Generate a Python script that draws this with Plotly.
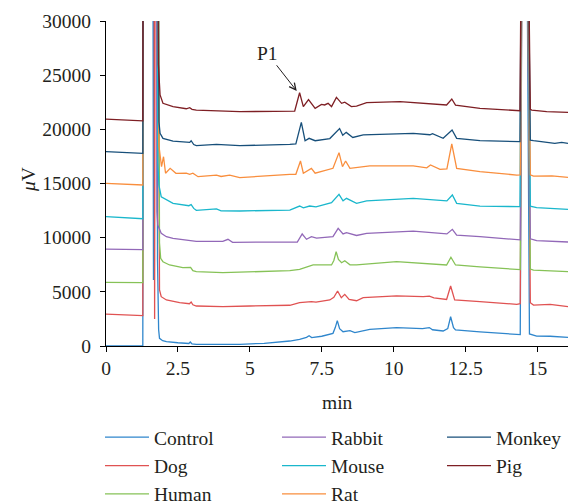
import plotly.graph_objects as go

# Retention time (min) and detector signal (µV) for each sample chromatogram
control_t = [0, 1.28, 1.30, 1.62, 1.65, 1.68, 1.76, 1.79, 1.83, 1.86, 1.97, 2.10, 2.50, 2.79, 2.88, 2.93, 2.99, 3.14, 4.00, 4.65,
             5.50, 6.39, 6.73, 6.97, 7.06, 7.15, 7.50, 7.89, 7.97, 8.04, 8.12, 8.24, 8.48, 8.65, 9.17, 10.10, 11.00, 11.24, 11.35, 11.72,
             11.88, 11.98, 12.08, 12.15, 13.00, 13.70, 14.28, 14.40, 14.50, 14.58, 14.72, 14.97, 15.44, 16.06]
control_uv = [0, 0, 60000, 60000, 6100, 60000, 60000, 8000, 1500, 710, 490, 400, 300, 210, 230, 370, 200, 155, 150, 155,
              250, 460, 620, 800, 950, 780, 900, 1170, 1700, 2340, 1600, 1320, 1410, 1230, 1540, 1690, 1600, 1700, 1500, 1385,
              1600, 2700, 1700, 1480, 1300, 1150, 1015, 1050, 60000, 60000, 1110, 920, 900, 800]

dog_t = [0, 1.28, 1.30, 1.66, 1.69, 1.72, 1.78, 1.84, 1.86, 1.92, 2.10, 2.56, 2.90, 2.96, 3.02, 3.14, 4.06, 5.00, 6.39, 6.73,
         7.00, 7.14, 7.30, 7.78, 7.92, 8.05, 8.18, 8.30, 8.45, 8.71, 8.94, 10.10, 11.03, 11.24, 11.40, 11.84, 11.98, 12.12, 13.00, 14.28,
         14.40, 14.50, 14.58, 14.75, 14.86, 15.44, 16.06]
dog_uv = [2950, 2800, 60000, 60000, 2500, 60000, 60000, 5800, 5170, 4550, 4250, 4000, 3900, 4060, 3800, 3690, 3630, 3690, 3760, 4000,
          4050, 4090, 4050, 4250, 4500, 5080, 4450, 4770, 4310, 4180, 4460, 4620, 4550, 4600, 4450, 4300, 5540, 4250, 4100, 3850,
          3900, 60000, 60000, 4000, 3780, 3850, 3630]

human_t = [0, 1.28, 1.30, 1.80, 1.86, 1.90, 1.98, 2.21, 2.67, 2.88, 2.94, 3.02, 3.14, 4.06, 5.50, 6.39, 6.73, 7.20, 7.84, 7.92,
           8.00, 8.08, 8.19, 8.30, 8.48, 8.71, 10.10, 11.26, 11.84, 11.99, 12.15, 13.00, 14.28, 14.40, 14.50, 14.58, 14.75, 14.86, 16.06]
human_uv = [5880, 5850, 60000, 60000, 9500, 8100, 7780, 7480, 7230, 7200, 7260, 6950, 6860, 6770, 6850, 6950, 7080, 7480, 7480, 7900,
            8700, 8000, 7690, 7870, 7500, 7480, 7780, 7600, 7480, 8190, 7480, 7300, 7010, 7050, 60000, 60000, 7100, 7010, 6860]

rabbit_t = [0, 1.28, 1.30, 1.74, 1.77, 1.80, 1.92, 2.10, 2.33, 2.56, 2.91, 3.14, 4.06, 4.24, 4.40, 6.04, 6.65, 6.82, 6.97, 7.14,
            7.32, 7.89, 8.07, 8.24, 8.36, 8.71, 9.06, 10.68, 11.61, 11.85, 12.04, 12.19, 13.00, 14.28, 14.40, 14.50, 14.58, 14.75, 14.97, 16.06]
rabbit_uv = [8950, 8900, 60000, 60000, 12400, 11170, 10400, 10090, 9940, 9850, 9780, 9650, 9650, 9850, 9570, 9560, 9600, 10340, 9850, 10090,
             9950, 10100, 10860, 10340, 10460, 10200, 10400, 10610, 10400, 10350, 10770, 10240, 10090, 9780, 9800, 60000, 60000, 9900, 9720, 9600]

mouse_t = [0, 1.28, 1.30, 1.76, 1.80, 1.84, 1.92, 2.33, 2.88, 2.96, 3.05, 3.14, 3.84, 4.00, 4.65, 6.39, 6.73, 6.86, 7.08, 7.30,
           7.84, 8.10, 8.24, 8.36, 8.71, 9.06, 10.68, 11.61, 11.85, 12.04, 12.19, 13.00, 14.39, 14.50, 14.58, 14.75, 14.97, 16.06]
mouse_uv = [11940, 11750, 60000, 60000, 17000, 14860, 13780, 13170, 12950, 13050, 12700, 12520, 12650, 12480, 12460, 12550, 12920, 12750, 12920, 12850,
            13230, 14000, 13410, 13630, 13170, 13400, 13630, 13450, 13400, 13940, 13170, 12920, 12860, 60000, 60000, 12900, 12770, 12620]

rat_t = [0, 1.28, 1.30, 1.78, 1.84, 1.88, 1.93, 2.00, 2.07, 2.23, 2.43, 2.79, 2.91, 3.02, 3.20, 3.84, 4.00, 4.30, 4.65, 6.39,
         6.60, 6.76, 6.86, 7.14, 7.27, 7.89, 8.10, 8.22, 8.33, 8.48, 9.17, 10.68, 11.15, 11.28, 11.61, 11.85, 12.02, 12.19, 13.00, 14.28,
         14.40, 14.50, 14.58, 14.75, 14.86, 15.50, 16.06]
rat_uv = [15020, 14860, 60000, 60000, 18500, 17470, 16550, 17470, 15950, 16400, 15940, 15950, 15850, 15950, 15630, 15780, 15650, 15780, 15540, 15850,
          15850, 17080, 15950, 16400, 15950, 16400, 17850, 16550, 17080, 16400, 16620, 16620, 16450, 16710, 16310, 16350, 18650, 16400, 16090, 15780,
          15800, 60000, 60000, 15800, 15690, 15700, 15570]

monkey_t = [0, 1.28, 1.30, 1.78, 1.84, 1.88, 1.98, 2.33, 2.91, 2.96, 3.05, 3.14, 3.84, 4.65, 6.39, 6.60, 6.79, 6.92, 7.06, 7.27,
            7.78, 8.12, 8.23, 8.35, 8.58, 8.94, 10.68, 11.26, 11.35, 11.72, 12.03, 12.19, 13.00, 14.39, 14.50, 14.58, 14.75, 14.86, 15.60, 15.84,
            16.06]
monkey_uv = [17940, 17790, 60000, 60000, 20700, 19630, 19170, 18920, 18800, 18950, 18600, 18490, 18620, 18490, 18620, 18650, 20650, 18950, 19170, 18950,
             19150, 20070, 19450, 19720, 19250, 19480, 19630, 19500, 19600, 19170, 19940, 19170, 18950, 18860, 60000, 60000, 19000, 18950, 18700, 18800,
             18710]

pig_t = [0, 1.28, 1.30, 1.78, 1.82, 1.88, 1.98, 2.33, 2.79, 2.91, 2.99, 3.14, 4.65, 6.39, 6.56, 6.73, 6.86, 7.04, 7.27, 7.49,
         7.60, 7.72, 7.84, 8.01, 8.19, 8.30, 8.53, 8.71, 9.06, 10.22, 11.61, 11.84, 12.02, 12.15, 13.00, 14.39, 14.50, 14.58, 14.75, 14.80,
         15.32, 16.06]
pig_uv = [20950, 20790, 60000, 60000, 26000, 23170, 22400, 22090, 21900, 22000, 21850, 21780, 21630, 21630, 21690, 23380, 22090, 22750, 21940, 22300,
          22250, 22400, 22100, 22950, 22400, 22500, 22100, 22150, 22460, 22550, 22340, 22250, 22800, 22240, 21940, 21720, 60000, 60000, 21850, 21780,
          21630, 21570]

x_ticks = [0, 2.5, 5, 7.5, 10, 12.5, 15]
y_ticks = [0, 5000, 10000, 15000, 20000, 25000, 30000]

# name, times, signal, colour, legend column
series = [
    ("Control", control_t, control_uv, "#2f86cc", "legend"),
    ("Dog", dog_t, dog_uv, "#e05252", "legend"),
    ("Human", human_t, human_uv, "#86c257", "legend"),
    ("Rabbit", rabbit_t, rabbit_uv, "#9268b8", "legend2"),
    ("Mouse", mouse_t, mouse_uv, "#1ab7cc", "legend2"),
    ("Rat", rat_t, rat_uv, "#f98e3d", "legend2"),
    ("Monkey", monkey_t, monkey_uv, "#174f7a", "legend3"),
    ("Pig", pig_t, pig_uv, "#7e1f24", "legend3"),
]

FONT = "Liberation Serif, Times New Roman, serif"
TXT = "#231f20"
FS = 19.5
text_font = dict(family=FONT, size=FS, color=TXT)

fig = go.Figure()
for name, t, uv, color, leg in series:
    assert len(t) == len(uv), name
    fig.add_trace(go.Scatter(
        x=t, y=uv, mode="lines", name=name, legend=leg, legendgroup=name,
        line=dict(color=color, width=1.3),
    ))

axis_common = dict(
    showline=True, linecolor="black", linewidth=1, mirror=False,
    ticks="outside", ticklen=5, tickcolor="black", tickwidth=1,
    showgrid=False, zeroline=False, automargin=False,
    tickfont=text_font,
)

legend_common = dict(
    xref="container", yref="container", xanchor="left", yanchor="top",
    orientation="v", bgcolor="rgba(0,0,0,0)", borderwidth=0, itemwidth=44,
    font=text_font, tracegroupgap=0,
)

LEG_TOP = 1 - 418 / 504

fig.update_layout(
    width=570, height=504,
    margin=dict(l=106, r=2, t=21, b=158, autoexpand=False),
    paper_bgcolor="white", plot_bgcolor="white",
    showlegend=True,
    xaxis=dict(range=[0, 16.06], tickvals=x_ticks, ticktext=[str(v) for v in x_ticks],
               **axis_common),
    yaxis=dict(range=[0, 30000], tickvals=y_ticks, ticktext=[str(v) for v in y_ticks],
               ticklabelstandoff=5, **axis_common),
    legend=dict(x=100 / 570, y=LEG_TOP, **legend_common),
    legend2=dict(x=277 / 570, y=LEG_TOP, **legend_common),
    legend3=dict(x=442 / 570, y=LEG_TOP, **legend_common),
    annotations=[
        # peak marker
        dict(x=6.63, y=23540, xref="x", yref="y", text="P1", font=text_font,
             showarrow=True, ax=-29.5, ay=-37.7, arrowhead=5, arrowsize=1.3,
             arrowwidth=1, arrowcolor=TXT),
        # axis titles
        dict(x=0.5, y=-56 / 325, xref="paper", yref="paper", text="min", font=text_font,
             showarrow=False, xanchor="center", yanchor="middle"),
        dict(x=-77 / 462, y=0.511, xref="paper", yref="paper", text="<i>μ</i>V", font=text_font,
             showarrow=False, textangle=-90, xanchor="center", yanchor="middle"),
    ],
)

fig.write_html("out.html")
